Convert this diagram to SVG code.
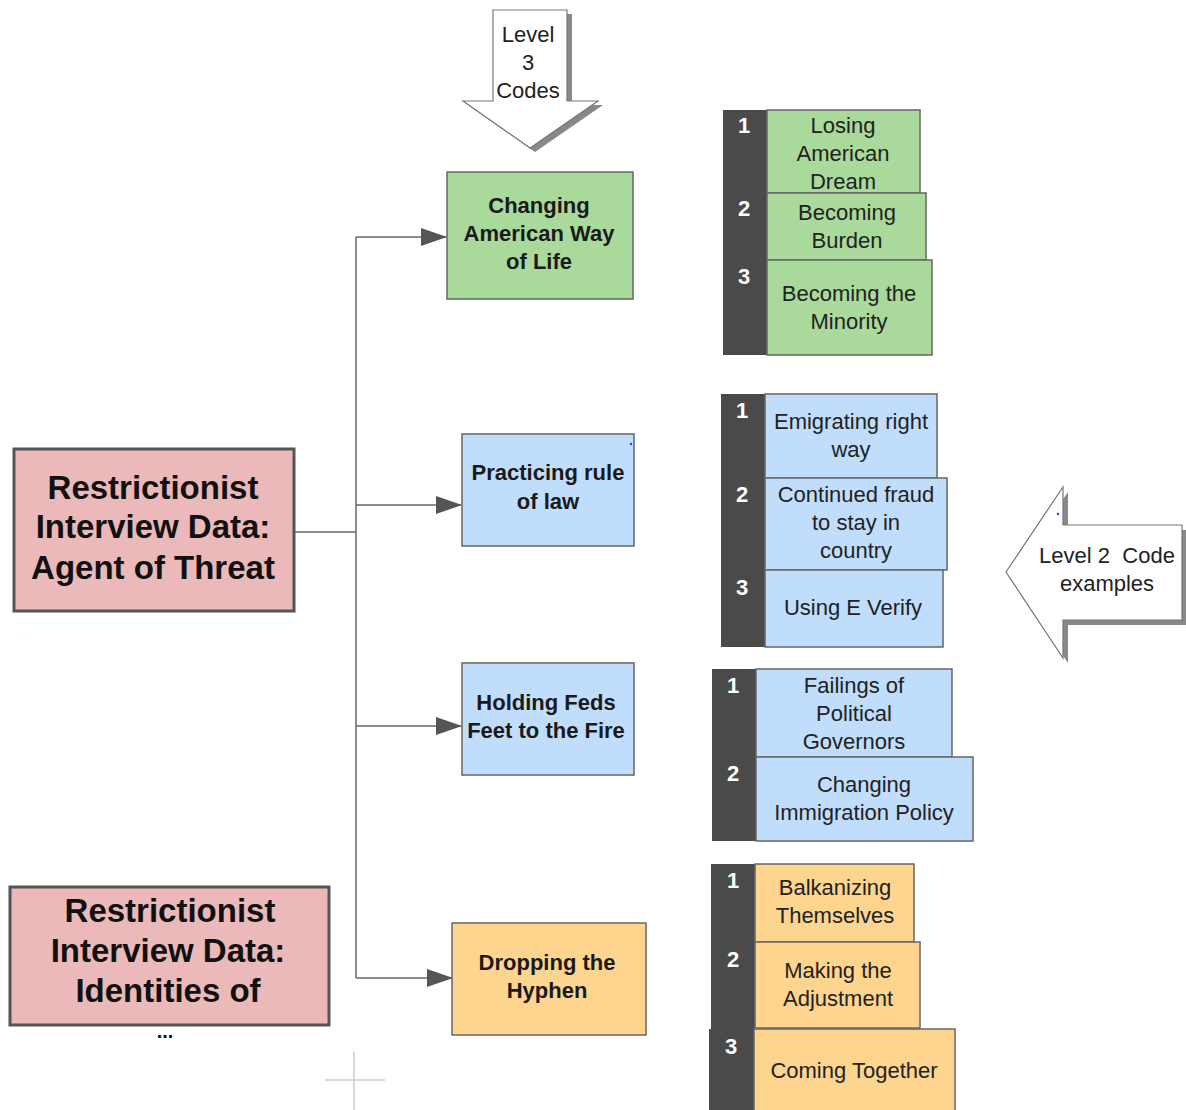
<svg xmlns="http://www.w3.org/2000/svg" width="1186" height="1110" viewBox="0 0 1186 1110">
<defs>
<style>
text{font-family:"Liberation Sans",Arial,sans-serif;text-anchor:middle;}
.main{fill:#ebb9b9;stroke:#555;stroke-width:3;}
.mt{font-size:33px;font-weight:bold;fill:#111;}
.green{fill:#a9d99b;stroke:#666;stroke-width:1.5;}
.blue{fill:#c0ddfc;stroke:#666;stroke-width:1.5;}
.orange{fill:#fdd58e;stroke:#666;stroke-width:1.5;}
.nt{font-size:22px;font-weight:bold;fill:#1a1a1a;}
.st{font-size:22px;fill:#222;}
.bar{fill:#4a4a4a;}
.num{font-size:22px;font-weight:bold;fill:#fff;}
.conn{fill:none;stroke:#666;stroke-width:1.5;}
.big{fill:#fff;stroke:#777;stroke-width:1.2;}
.shadow{fill:#888;}
</style>
<marker id="ah" markerWidth="26" markerHeight="18" refX="25" refY="9" orient="auto" markerUnits="userSpaceOnUse">
<path d="M0,0 L26,9 L0,18 Z" fill="#555"/>
</marker>
</defs>

<g id="connectors">
<path class="conn" d="M294,532 H356"/>
<path class="conn" d="M356,237 V978"/>
<path class="conn" d="M356,237 H446" marker-end="url(#ah)"/>
<path class="conn" d="M356,505 H461" marker-end="url(#ah)"/>
<path class="conn" d="M356,726 H461" marker-end="url(#ah)"/>
<path class="conn" d="M356,978 H452" marker-end="url(#ah)"/>
</g>

<g id="main1">
<rect class="main" x="14" y="449" width="280" height="162"/>
<text class="mt" x="153" y="499">Restrictionist</text>
<text class="mt" x="153" y="538">Interview Data:</text>
<text class="mt" x="153" y="579">Agent of Threat</text>
</g>

<g id="main2">
<rect class="main" x="10" y="887" width="319" height="138"/>
<text class="mt" x="170" y="922">Restrictionist</text>
<text class="mt" x="168" y="962">Interview Data:</text>
<text class="mt" x="168" y="1002">Identities of</text>
<text x="165" y="1038" style="font-size:20px;font-weight:bold;fill:#111">...</text>
</g>

<g id="level3-arrow">
<path class="shadow" d="M498,14 H572 V105 H603 L535,152 L468,105 H498 Z"/>
<path class="big" d="M493,10 H567 V101 H598 L530,148 L463,101 H493 Z"/>
<text class="st" x="528" y="42">Level</text>
<text class="st" x="528" y="70">3</text>
<text class="st" x="528" y="98">Codes</text>
</g>

<g id="level2-arrow">
<path class="shadow" d="M1010,577 L1068,492 V530 H1186 V625 H1068 V663 Z"/>
<path class="big" d="M1006,572 L1063,487 V525 H1182 V620 H1063 V658 Z"/>
<text class="st" x="1107" y="563" xml:space="preserve">Level 2  Code</text>
<text class="st" x="1107" y="591">examples</text>
<circle cx="1058" cy="514" r="1.2" fill="#33f"/>
</g>

<g id="node-changing">
<rect class="green" x="447" y="172" width="186" height="127"/>
<text class="nt" x="539" y="213">Changing</text>
<text class="nt" x="539" y="241">American Way</text>
<text class="nt" x="539" y="269">of Life</text>
</g>

<g id="node-practicing">
<rect class="blue" x="462" y="434" width="172" height="112"/>
<text class="nt" x="548" y="480">Practicing rule</text>
<text class="nt" x="548" y="509">of law</text>
<circle cx="631" cy="444" r="1.2" fill="#33f"/>
</g>

<g id="node-holding">
<rect class="blue" x="462" y="663" width="172" height="112"/>
<text class="nt" x="546" y="710">Holding Feds</text>
<text class="nt" x="546" y="738">Feet to the Fire</text>
</g>

<g id="node-dropping">
<rect class="orange" x="452" y="923" width="194" height="112"/>
<text class="nt" x="547" y="970">Dropping the</text>
<text class="nt" x="547" y="998">Hyphen</text>
</g>

<g id="list-green">
<rect class="bar" x="723" y="110" width="44" height="245"/>
<rect class="green" x="767" y="110" width="153" height="83"/>
<rect class="green" x="767" y="193" width="159" height="67"/>
<rect class="green" x="767" y="260" width="165" height="95"/>
<text class="num" x="744" y="133">1</text>
<text class="num" x="744" y="216">2</text>
<text class="num" x="744" y="284">3</text>
<text class="st" x="843" y="133">Losing</text>
<text class="st" x="843" y="161">American</text>
<text class="st" x="843" y="189">Dream</text>
<text class="st" x="847" y="220">Becoming</text>
<text class="st" x="847" y="248">Burden</text>
<text class="st" x="849" y="301">Becoming the</text>
<text class="st" x="849" y="329">Minority</text>
</g>

<g id="list-blue1">
<rect class="bar" x="721" y="394" width="44" height="253"/>
<rect class="blue" x="765" y="394" width="172" height="84"/>
<rect class="blue" x="765" y="478" width="182" height="92"/>
<rect class="blue" x="765" y="570" width="178" height="77"/>
<text class="num" x="742" y="418">1</text>
<text class="num" x="742" y="502">2</text>
<text class="num" x="742" y="595">3</text>
<text class="st" x="851" y="429">Emigrating right</text>
<text class="st" x="851" y="457">way</text>
<text class="st" x="856" y="502">Continued fraud</text>
<text class="st" x="856" y="530">to stay in</text>
<text class="st" x="856" y="558">country</text>
<text class="st" x="853" y="615">Using E Verify</text>
</g>

<g id="list-blue2">
<rect class="bar" x="712" y="669" width="44" height="172"/>
<rect class="blue" x="756" y="669" width="196" height="88"/>
<rect class="blue" x="756" y="757" width="217" height="84"/>
<text class="num" x="733" y="693">1</text>
<text class="num" x="733" y="781">2</text>
<text class="st" x="854" y="693">Failings of</text>
<text class="st" x="854" y="721">Political</text>
<text class="st" x="854" y="749">Governors</text>
<text class="st" x="864" y="792">Changing</text>
<text class="st" x="864" y="820">Immigration Policy</text>
</g>

<g id="list-orange">
<rect class="bar" x="711" y="864" width="44" height="165"/>
<rect class="bar" x="709" y="1029" width="45" height="81"/>
<rect class="orange" x="755" y="864" width="159" height="78"/>
<rect class="orange" x="755" y="942" width="165" height="86"/>
<rect class="orange" x="754" y="1029" width="201" height="86"/>
<text class="num" x="733" y="888">1</text>
<text class="num" x="733" y="967">2</text>
<text class="num" x="731" y="1054">3</text>
<text class="st" x="835" y="895">Balkanizing</text>
<text class="st" x="835" y="923">Themselves</text>
<text class="st" x="838" y="978">Making the</text>
<text class="st" x="838" y="1006">Adjustment</text>
<text class="st" x="854" y="1078">Coming Together</text>
</g>

<g id="crosshair">
<path d="M354,1052 V1110 M325,1080 H385" stroke="#ccc" stroke-width="1.5" fill="none"/>
</g>
</svg>
